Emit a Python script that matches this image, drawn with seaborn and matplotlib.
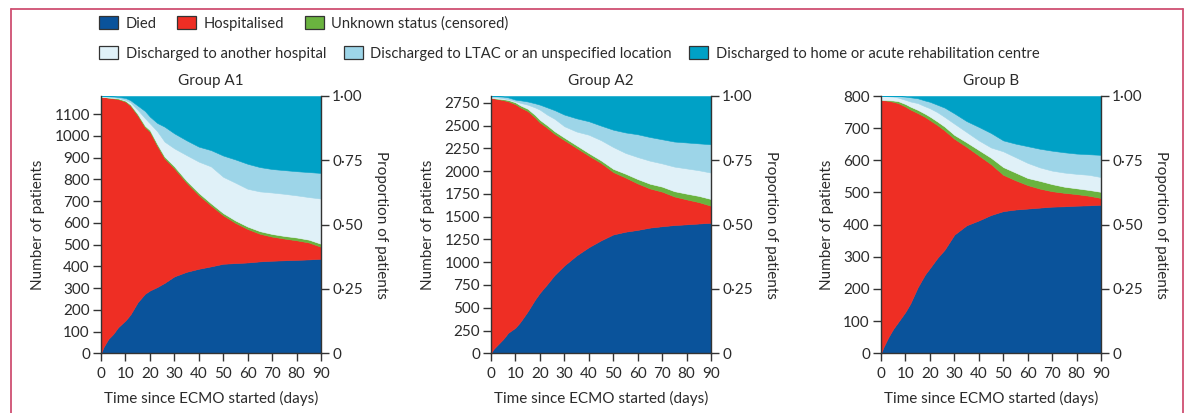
import numpy as np
import matplotlib
matplotlib.use("Agg")
import matplotlib.pyplot as plt
from matplotlib.patches import Patch
from matplotlib.lines import Line2D
import seaborn as sns

# ---------------- data (cumulative stacked levels) ----------------
days = [0, 1, 3, 5, 7, 10, 12, 15, 18, 20, 23, 26, 30, 35, 40, 45, 50, 55, 60, 65, 70, 75, 80, 85, 90]

status_labels = ["Died", "Hospitalised", "Unknown status (censored)",
                 "Discharged to another hospital",
                 "Discharged to LTAC or an unspecified location",
                 "Discharged to home or acute rehabilitation centre"]
group_titles = ["Group A1", "Group A2", "Group B"]

# Group A1
a1_total = 1184
a1_died = [0, 28, 66, 89, 120, 151, 178, 235, 274, 289, 305, 324, 354, 375, 389, 400, 412, 415, 418, 423, 426, 428, 430, 432, 435]
a1_hosp_top = [1181, 1180, 1176, 1173, 1170, 1158, 1140, 1095, 1040, 1020, 955, 897, 851, 785, 728, 680, 635, 600, 572, 550, 537, 528, 520, 510, 490]
a1_unknown = [0, 0, 1, 2, 3, 4, 5, 6, 7, 7, 8, 8, 9, 9, 10, 10, 10, 11, 11, 12, 12, 12, 13, 13, 14]
a1_other_hosp_top = [1183, 1182, 1180, 1178, 1175, 1166, 1155, 1120, 1082, 1058, 1022, 974, 943, 912, 882, 860, 812, 785, 757, 745, 740, 734, 727, 719, 712]
a1_ltac_top = [1184, 1184, 1183, 1182, 1180, 1175, 1165, 1140, 1115, 1089, 1060, 1043, 1012, 980, 951, 935, 910, 892, 872, 857, 848, 843, 838, 834, 830]

# Group A2
a2_total = 2825
a2_died = [0, 47, 102, 157, 225, 282, 345, 460, 590, 665, 760, 860, 965, 1075, 1165, 1240, 1305, 1335, 1355, 1380, 1395, 1408, 1416, 1425, 1433]
a2_hosp_top = [2803, 2800, 2790, 2780, 2767, 2735, 2700, 2660, 2590, 2535, 2475, 2410, 2340, 2255, 2170, 2090, 1990, 1930, 1865, 1810, 1775, 1722, 1690, 1660, 1620]
a2_unknown = [0, 2, 5, 10, 15, 20, 22, 25, 27, 28, 28, 28, 28, 28, 28, 28, 35, 42, 48, 52, 55, 58, 63, 68, 74]
a2_other_hosp_top = [2815, 2812, 2808, 2800, 2790, 2767, 2750, 2730, 2700, 2675, 2620, 2575, 2493, 2435, 2400, 2340, 2265, 2200, 2155, 2115, 2085, 2050, 2030, 2010, 1984]
a2_ltac_top = [2825, 2824, 2822, 2818, 2810, 2785, 2778, 2765, 2745, 2730, 2700, 2670, 2621, 2580, 2548, 2500, 2455, 2425, 2405, 2375, 2350, 2325, 2315, 2305, 2295]

# Group B
b_total = 800
b_died = [0, 19, 50, 76, 97, 129, 155, 205, 245, 265, 296, 322, 369, 398, 413, 430, 442, 447, 450, 453, 456, 457, 459, 460, 462]
b_hosp_top = [788, 787, 785, 782, 778, 767, 758, 747, 735, 725, 710, 693, 667, 642, 615, 588, 555, 538, 523, 512, 504, 499, 495, 490, 483]
b_unknown = [0, 0, 2, 4, 6, 8, 9, 10, 10, 11, 11, 12, 12, 14, 17, 20, 24, 24, 22, 24, 22, 19, 18, 18, 19]
b_other_hosp_top = [800, 800, 799, 798, 795, 788, 783, 778, 768, 762, 750, 735, 714, 688, 662, 640, 628, 610, 592, 578, 568, 562, 558, 555, 548]
b_ltac_top = [800, 800, 800, 800, 800, 798, 796, 793, 786, 782, 773, 764, 746, 722, 704, 685, 662, 652, 644, 636, 630, 625, 621, 619, 617]

left_ticks_a1 = list(range(0, 1101, 100))
left_ticks_a2 = list(range(0, 2751, 250))
left_ticks_b = list(range(0, 801, 100))
x_ticks = list(range(0, 91, 10))
prop_ticks = [0, 0.25, 0.5, 0.75, 1.0]
prop_tick_labels = ["0", "0\u00b725", "0\u00b750", "0\u00b775", "1\u00b700"]

colors = ["#0a539b", "#ee2e24", "#6ab33f", "#e0f1f8", "#9dd5e8", "#00a1c6"]

# ---------------- styling ----------------
sns.set_theme(style="ticks")
plt.rcParams["font.family"] = ["Lato", "DejaVu Sans"]
FS = 11
LFS = 10.6
TXT = "#2b2b2b"
plt.rcParams.update({
    "axes.edgecolor": "#333333", "xtick.color": "#333333", "ytick.color": "#333333",
    "xtick.labelcolor": TXT, "ytick.labelcolor": TXT, "axes.labelcolor": TXT,
    "xtick.major.size": 6, "ytick.major.size": 6,
    "xtick.major.width": 1.0, "ytick.major.width": 1.0, "axes.linewidth": 1.0,
})

fig = plt.figure(figsize=(11.86, 4.13), dpi=100)
W, H = 1186, 413

groups = [
    (a1_total, a1_died, a1_hosp_top, a1_unknown, a1_other_hosp_top, a1_ltac_top, left_ticks_a1),
    (a2_total, a2_died, a2_hosp_top, a2_unknown, a2_other_hosp_top, a2_ltac_top, left_ticks_a2),
    (b_total, b_died, b_hosp_top, b_unknown, b_other_hosp_top, b_ltac_top, left_ticks_b),
]
lefts_px = [101, 491, 881]
ax_w_px = 220
top_px, bot_px = 96, 353.3

x = np.array(days, dtype=float)
for gi, (tot, died, hosp_top, unk, oth_top, ltac_top, lticks) in enumerate(groups):
    ax = fig.add_axes([lefts_px[gi] / W, (H - bot_px) / H, ax_w_px / W, (bot_px - top_px) / H])
    died = np.array(died, float)
    hosp = np.array(hosp_top, float) - died
    unk = np.array(unk, float)
    oth = np.array(oth_top, float) - (died + hosp + unk)
    ltac = np.array(ltac_top, float) - np.array(oth_top, float)
    home = tot - np.array(ltac_top, float)
    layers = [died, hosp, unk, oth, ltac, home]
    base = np.zeros_like(x)
    for layer, c in zip(layers, colors):
        ax.fill_between(x, base, base + layer, color=c, linewidth=0.4, edgecolor=c)
        base = base + layer
    ax.set_xlim(0, 90)
    ax.set_ylim(0, tot)
    ax.set_xticks(x_ticks)
    ax.set_yticks(lticks)
    ax.tick_params(axis="y", labelsize=FS, pad=2)
    ax.tick_params(axis="x", labelsize=FS, pad=4)
    ax.set_xlabel("Time since ECMO started (days)", fontsize=FS, labelpad=7)
    ax.set_ylabel("Number of patients", fontsize=FS, labelpad=7)
    ax.set_title(group_titles[gi], fontsize=FS, pad=8, color=TXT)
    sns.despine(ax=ax, top=True, right=True)
    ax2 = ax.twinx()
    ax2.set_ylim(0, 1)
    ax2.set_yticks(prop_ticks)
    ax2.set_yticklabels(prop_tick_labels)
    ax2.tick_params(labelsize=FS, pad=2)
    ax2.set_ylabel("Proportion of patients", fontsize=FS, rotation=270, labelpad=18)
    for s in ["top", "left", "bottom"]:
        ax2.spines[s].set_visible(False)

# ---------------- legends ----------------
def make_handles(idx):
    return [Patch(facecolor=colors[i], edgecolor="#333333", linewidth=0.9) for i in idx]

common = dict(loc="upper left", frameon=False, fontsize=LFS, borderpad=0, borderaxespad=0,
              handlelength=1.3, handleheight=1.0, handletextpad=0.5, labelcolor=TXT)
fig.legend(make_handles([0, 1, 2]), status_labels[0:3], ncol=3,
           bbox_to_anchor=(99 / W, 1 - 16 / H), columnspacing=1.4, **common)
fig.legend(make_handles([3, 4, 5]), status_labels[3:6], ncol=3,
           bbox_to_anchor=(99 / W, 1 - 46 / H), columnspacing=1.2, **common)

# pink frame
frame_c = "#cf4f72"
fig.add_artist(Line2D([10.5 / W, 10.5 / W], [0, 1 - 8.5 / H], color=frame_c, lw=1.3, transform=fig.transFigure))
fig.add_artist(Line2D([10.5 / W, 1183 / W], [1 - 8.5 / H, 1 - 8.5 / H], color=frame_c, lw=1.3, transform=fig.transFigure))
fig.add_artist(Line2D([1183 / W, 1183 / W], [0, 1 - 8.5 / H], color=frame_c, lw=1.3, transform=fig.transFigure))

fig.savefig("out.png", dpi=100)
